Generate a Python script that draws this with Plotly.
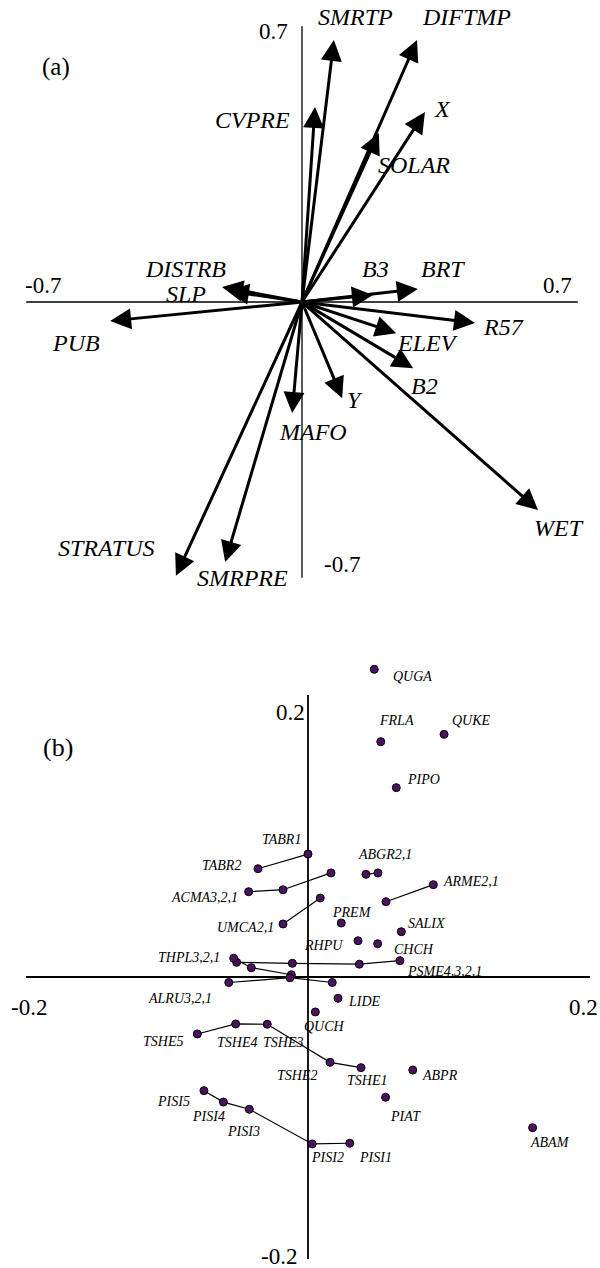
import plotly.graph_objects as go

# ---------------- Panel (a): environmental vectors ----------------
env_vars = ["SMRTP", "DIFTMP", "CVPRE", "X", "SOLAR", "DISTRB", "SLP", "B3", "BRT",
            "PUB", "R57", "ELEV", "B2", "Y", "MAFO", "WET", "STRATUS", "SMRPRE"]
env_x = [0.081, 0.292, 0.033, 0.312, 0.195, -0.203, -0.188, 0.180, 0.294,
         -0.487, 0.439, 0.239, 0.282, 0.102, -0.025, 0.599, -0.320, -0.195]
env_y = [0.665, 0.665, 0.495, 0.482, 0.429, 0.038, 0.028, 0.018, 0.033,
         -0.048, -0.053, -0.079, -0.168, -0.244, -0.282, -0.528, -0.695, -0.660]
a_axis_lim = 0.7
a_tick_labels = ["-0.7", "0.7"]

# ---------------- Panel (b): species scores ----------------
sp_names = ["QUGA", "FRLA", "QUKE", "PIPO", "TABR1", "TABR2",
            "ACMA3", "ACMA2", "ACMA1", "ABGR2", "ABGR1", "ARME2", "ARME1",
            "UMCA2", "UMCA1", "PREM", "SALIX", "RHPU", "CHCH",
            "PSME1", "PSME2", "PSME3", "PSME4",
            "THPL3", "THPL2", "THPL1", "ALRU3", "ALRU2", "ALRU1",
            "LIDE", "QUCH", "TSHE5", "TSHE4", "TSHE3", "TSHE2", "TSHE1",
            "ABPR", "PIAT", "PISI5", "PISI4", "PISI3", "PISI2", "PISI1", "ABAM"]
sp_x = [0.0470, 0.0516, 0.0965, 0.0626, 0.0000, -0.0355,
        -0.0421, -0.0177, 0.0163, 0.0411, 0.0496, 0.0553, 0.0889,
        -0.0177, 0.0087, 0.0236, 0.0662, 0.0355, 0.0494,
        0.0652, 0.0364, -0.0111, -0.0506,
        -0.0527, -0.0402, -0.0118, -0.0562, -0.0128, 0.0172,
        0.0213, 0.0052, -0.0785, -0.0513, -0.0289, 0.0156, 0.0376,
        0.0743, 0.0550, -0.0738, -0.0600, -0.0416, 0.0030, 0.0296, 0.1593]
sp_y = [0.2182, 0.1669, 0.1721, 0.1343, 0.0872, 0.0768,
        0.0605, 0.0619, 0.0738, 0.0728, 0.0738, 0.0534, 0.0655,
        0.0376, 0.0560, 0.0383, 0.0321, 0.0257, 0.0236,
        0.0116, 0.0091, 0.0097, 0.0104,
        0.0133, 0.0066, 0.0016, -0.0039, -0.0005, -0.0039,
        -0.0151, -0.0248, -0.0404, -0.0333, -0.0335, -0.0605, -0.0643,
        -0.0660, -0.0853, -0.0806, -0.0887, -0.0938, -0.1184, -0.1179, -0.1069]
sp_chains = [["TABR2", "TABR1"], ["ACMA3", "ACMA2", "ACMA1"], ["ABGR2", "ABGR1"],
             ["ARME2", "ARME1"], ["UMCA2", "UMCA1"],
             ["PSME1", "PSME2", "PSME3", "PSME4"], ["THPL3", "THPL2", "THPL1"],
             ["ALRU3", "ALRU2", "ALRU1"],
             ["TSHE5", "TSHE4", "TSHE3", "TSHE2", "TSHE1"],
             ["PISI5", "PISI4", "PISI3", "PISI2", "PISI1"]]
sp_label_text = ["QUGA", "FRLA", "QUKE", "PIPO", "TABR1", "TABR2", "ACMA3,2,1", "ABGR2,1",
                 "ARME2,1", "UMCA2,1", "PREM", "SALIX", "RHPU", "CHCH", "PSME4,3,2,1",
                 "THPL3,2,1", "ALRU3,2,1", "LIDE", "QUCH", "TSHE5", "TSHE4", "TSHE3",
                 "TSHE2", "TSHE1", "ABPR", "PIAT", "PISI5", "PISI4", "PISI3", "PISI2",
                 "PISI1", "ABAM"]
sp_label_anchor = ["QUGA", "FRLA", "QUKE", "PIPO", "TABR1", "TABR2", "ACMA3", "ABGR2",
                   "ARME1", "UMCA2", "PREM", "SALIX", "RHPU", "CHCH", "PSME1",
                   "THPL3", "ALRU3", "LIDE", "QUCH", "TSHE5", "TSHE4", "TSHE3",
                   "TSHE2", "TSHE1", "ABPR", "PIAT", "PISI5", "PISI4", "PISI3", "PISI2",
                   "PISI1", "ABAM"]
b_axis_lim = 0.2
b_tick_labels = ["-0.2", "0.2"]

# ---------------- styling / layout (pixel offsets of labels) ----------------
W, H = 600, 1268
FONT = "Liberation Serif"
env_label_off = {"SMRTP": (22, -23), "DIFTMP": (49, -23), "CVPRE": (-63, 13), "X": (18, -3),
                 "SOLAR": (35, 32), "DISTRB": (-37, -18), "SLP": (-42, 3), "B3": (3, -26),
                 "BRT": (25, -20), "PUB": (-34, 22), "R57": (29, 4), "ELEV": (31, 10),
                 "B2": (11, 18), "Y": (13, 2), "MAFO": (21, 19), "WET": (21, 18),
                 "STRATUS": (-70, -28), "SMRPRE": (17, 16)}
sp_label_off = {"QUGA": (38, 7), "FRLA": (16, -21), "QUKE": (27, -14), "PIPO": (27, -8),
                "TABR1": (-27, -15), "TABR2": (-36, -3), "ACMA3,2,1": (-44, 6),
                "ABGR2,1": (19, -20), "ARME2,1": (38, -3), "UMCA2,1": (-38, 4),
                "PREM": (11, -11), "SALIX": (25, -8), "RHPU": (-35, 5), "CHCH": (36, 6),
                "PSME4,3,2,1": (45, 11), "THPL3,2,1": (-45, -1), "ALRU3,2,1": (-49, 16),
                "LIDE": (26, 3), "QUCH": (9, 15), "TSHE5": (-34, 8), "TSHE4": (1, 19),
                "TSHE3": (16, 18), "TSHE2": (-33, 13), "TSHE1": (6, 13), "ABPR": (27, 5),
                "PIAT": (20, 19), "PISI5": (-30, 11), "PISI4": (-15, 14), "PISI3": (-6, 22),
                "PISI2": (15, 14), "PISI1": (26, 14), "ABAM": (17, 15)}

# pixel geometry of each panel
a_ox, a_oy, a_s, a_top, a_bot = 302, 302, 394, 0, 620
b_ox, b_oy, b_s, b_top, b_bot = 308, 977, 1410, 640, 1268

fig = go.Figure()
annotations = []
shapes = []

# ---- panel (a) axes cross
shapes.append(dict(type="line", xref="x", yref="y", x0=-a_axis_lim, x1=a_axis_lim, y0=0, y1=0,
                   line=dict(color="black", width=1.6), layer="below"))
shapes.append(dict(type="line", xref="x", yref="y", x0=0, x1=0, y0=-a_axis_lim, y1=a_axis_lim,
                   line=dict(color="black", width=1.3), layer="below"))

# ---- panel (a) arrows + labels
for name, vx, vy in zip(env_vars, env_x, env_y):
    annotations.append(dict(x=vx, y=vy, ax=0, ay=0, xref="x", yref="y", axref="x", ayref="y",
                            text="", showarrow=True, arrowhead=2, arrowsize=1.4,
                            arrowwidth=3, arrowcolor="black"))
    dx, dy = env_label_off[name]
    annotations.append(dict(x=vx, y=vy, xref="x", yref="y", text=name, showarrow=False,
                            xshift=dx, yshift=-dy, xanchor="center", yanchor="middle",
                            font=dict(family=FONT, size=24, color="black", style="italic")))

tick_font_a = dict(family=FONT, size=23, color="black")
annotations += [
    dict(x=0, y=a_axis_lim, xref="x", yref="y", text=a_tick_labels[1], showarrow=False,
         xshift=-29, yshift=-5, font=tick_font_a),
    dict(x=0, y=-a_axis_lim, xref="x", yref="y", text=a_tick_labels[0], showarrow=False,
         xshift=40, yshift=13, font=tick_font_a),
    dict(x=-a_axis_lim, y=0, xref="x", yref="y", text=a_tick_labels[0], showarrow=False,
         xshift=17, yshift=17, font=tick_font_a),
    dict(x=a_axis_lim, y=0, xref="x", yref="y", text=a_tick_labels[1], showarrow=False,
         xshift=-20, yshift=17, font=tick_font_a),
]

# ---- panel (b) axes cross
shapes.append(dict(type="line", xref="x2", yref="y2", x0=-b_axis_lim, x1=b_axis_lim, y0=0, y1=0,
                   line=dict(color="black", width=1.8), layer="below"))
shapes.append(dict(type="line", xref="x2", yref="y2", x0=0, x1=0, y0=-b_axis_lim, y1=b_axis_lim,
                   line=dict(color="black", width=1.8), layer="below"))

idx = {n: i for i, n in enumerate(sp_names)}
lx, ly = [], []
for ch in sp_chains:
    for n in ch:
        lx.append(sp_x[idx[n]])
        ly.append(sp_y[idx[n]])
    lx.append(None)
    ly.append(None)
fig.add_trace(go.Scatter(x=lx, y=ly, xaxis="x2", yaxis="y2", mode="lines",
                         line=dict(color="black", width=1.2), hoverinfo="skip"))
fig.add_trace(go.Scatter(x=sp_x, y=sp_y, xaxis="x2", yaxis="y2", mode="markers", text=sp_names,
                         marker=dict(size=8, color="#4b125f", line=dict(color="black", width=1))))

for txt, anc in zip(sp_label_text, sp_label_anchor):
    dx, dy = sp_label_off[txt]
    annotations.append(dict(x=sp_x[idx[anc]], y=sp_y[idx[anc]], xref="x2", yref="y2", text=txt,
                            showarrow=False, xshift=dx, yshift=-dy, xanchor="center", yanchor="middle",
                            font=dict(family=FONT, size=14, color="black", style="italic")))

tick_font_b = dict(family=FONT, size=23, color="black")
annotations += [
    dict(x=0, y=b_axis_lim, xref="x2", yref="y2", text=b_tick_labels[1], showarrow=False,
         xshift=-18, yshift=-17, font=tick_font_b),
    dict(x=0, y=-b_axis_lim, xref="x2", yref="y2", text=b_tick_labels[0], showarrow=False,
         xshift=-29, yshift=3, font=tick_font_b),
    dict(x=-b_axis_lim, y=0, xref="x2", yref="y2", text=b_tick_labels[0], showarrow=False,
         xshift=3, yshift=-30, font=tick_font_b),
    dict(x=b_axis_lim, y=0, xref="x2", yref="y2", text=b_tick_labels[1], showarrow=False,
         xshift=-7, yshift=-30, font=tick_font_b),
]

# panel tags
annotations.append(dict(x=56 / W, y=1 - 67 / H, xref="paper", yref="paper", text="(a)",
                        xanchor="center", yanchor="middle", showarrow=False,
                        font=dict(family=FONT, size=25, color="black")))
annotations.append(dict(x=58 / W, y=1 - 747 / H, xref="paper", yref="paper", text="(b)",
                        xanchor="center", yanchor="middle", showarrow=False,
                        font=dict(family=FONT, size=26, color="black")))

fig.update_layout(
    width=W, height=H, margin=dict(l=0, r=0, t=0, b=0),
    paper_bgcolor="white", plot_bgcolor="white", showlegend=False,
    font=dict(family=FONT),
    xaxis=dict(domain=[0, 1], range=[-a_ox / a_s, (W - a_ox) / a_s], visible=False, fixedrange=True),
    yaxis=dict(domain=[1 - a_bot / H, 1 - a_top / H], range=[(a_oy - a_bot) / a_s, (a_oy - a_top) / a_s],
               visible=False, fixedrange=True),
    xaxis2=dict(domain=[0, 1], range=[-b_ox / b_s, (W - b_ox) / b_s], visible=False, fixedrange=True,
                anchor="y2"),
    yaxis2=dict(domain=[1 - b_bot / H, 1 - b_top / H], range=[(b_oy - b_bot) / b_s, (b_oy - b_top) / b_s],
                visible=False, fixedrange=True, anchor="x2"),
    annotations=annotations, shapes=shapes,
)

fig.write_html("out.html", config={"displayModeBar": False},
               post_script="document.body.style.margin='0';")
